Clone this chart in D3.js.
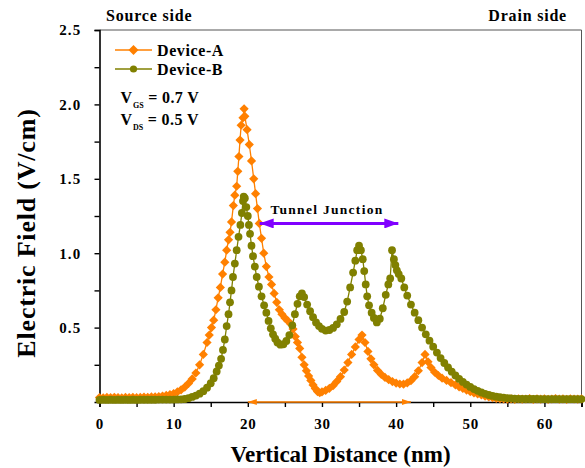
<!DOCTYPE html>
<html>
<head>
<meta charset="utf-8">
<script src="https://cdn.jsdelivr.net/npm/d3@7"></script>
<style>
  html, body { margin: 0; padding: 0; background: #fff; }
  svg { display: block; }
  text { font-family: "Liberation Serif", "Times New Roman", serif; font-weight: bold; fill: #000; }
</style>
</head>
<body>
<svg id="chart" width="585" height="468"></svg>
<script>
// Electric field profile along the vertical distance for two devices.
const deviceA = [
  [0,0.030],[0.5,0.028],[1,0.031],[1.5,0.029],[2,0.032],[2.5,0.030],[3,0.028],[3.5,0.031],[4,0.030],[4.5,0.032],
  [5,0.029],[5.5,0.031],[6,0.033],[6.5,0.032],[7,0.034],[7.5,0.035],[8,0.037],[8.5,0.040],[9,0.044],[9.5,0.050],
  [10,0.057],[10.5,0.068],[11,0.082],[11.5,0.100],[12,0.125],[12.5,0.155],[13,0.195],[13.5,0.250],[14,0.320],[14.5,0.400],
  [14.8,0.450],[15.1,0.500],[15.4,0.550],[15.7,0.620],[16.0,0.700],[16.3,0.770],[16.6,0.860],[16.9,0.940],[17.15,1.020],[17.4,1.090],
  [17.6,1.140],[17.8,1.210],[18.05,1.320],[18.25,1.390],[18.5,1.450],[18.65,1.550],[18.8,1.650],[18.95,1.760],[19.1,1.860],[19.35,1.910],
  [19.5,1.970],[19.6,1.920],[19.9,1.830],[20.2,1.730],[20.5,1.620],[20.8,1.500],[21.05,1.400],[21.3,1.300],[21.55,1.200],[21.85,1.100],
  [22.15,1.000],[22.5,0.910],[22.85,0.840],[23.2,0.790],[23.55,0.730],[23.9,0.670],[24.25,0.620],[24.6,0.590],[25.0,0.565],[25.4,0.545],
  [25.8,0.525],[26.1,0.490],[26.4,0.440],[26.7,0.400],[27.0,0.360],[27.3,0.300],[27.6,0.250],[27.9,0.210],[28.2,0.175],[28.5,0.145],
  [28.8,0.115],[29.1,0.090],[29.4,0.070],[29.7,0.062],[30.0,0.068],[30.5,0.078],[31.0,0.092],[31.5,0.110],[32.0,0.138],[32.5,0.170],
  [33.0,0.215],[33.5,0.265],[34.0,0.320],[34.5,0.370],[35.0,0.420],[35.4,0.450],[35.8,0.400],[36.2,0.340],[36.6,0.290],[37.0,0.250],
  [37.5,0.212],[38.0,0.185],[38.5,0.165],[39.0,0.150],[39.5,0.137],[40.0,0.127],[40.5,0.121],[41.0,0.120],[41.5,0.128],[42.0,0.143],
  [42.5,0.170],[43.0,0.210],[43.5,0.265],[43.9,0.320],[44.3,0.270],[44.7,0.232],[45.2,0.200],[45.7,0.178],[46.2,0.160],[46.8,0.145],
  [47.4,0.130],[48.0,0.115],[48.5,0.102],[49.0,0.091],[49.5,0.080],[50.0,0.070],[50.5,0.061],[51.0,0.054],[51.5,0.047],[52.0,0.040],
  [52.5,0.034],[53.0,0.029],[53.5,0.025],[54.0,0.022],[54.5,0.020],[55,0.019],[55.5,0.021],[56,0.018],[56.5,0.022],[57,0.019],
  [57.5,0.020],[58,0.023],[58.5,0.018],[59,0.021],[59.5,0.019],[60,0.022],[60.5,0.018],[61,0.020],[61.5,0.023],[62,0.019],
  [62.5,0.021],[63,0.018],[63.5,0.022],[64,0.020],[64.5,0.019],[65,0.021]
];

const deviceB = [
  [0,0.014],[0.5,0.015],[1,0.014],[1.5,0.015],[2,0.014],[2.5,0.015],[3,0.014],[3.5,0.015],[4,0.014],[4.5,0.015],
  [5,0.014],[5.5,0.015],[6,0.015],[6.5,0.015],[7,0.015],[7.5,0.015],[8,0.016],[8.5,0.016],[9,0.016],[9.5,0.016],
  [10,0.016],[10.5,0.017],[11,0.018],[11.5,0.020],[12,0.026],[12.5,0.034],[13,0.043],[13.5,0.056],[14,0.073],[14.5,0.096],
  [15,0.126],[15.4,0.160],[15.8,0.205],[16.1,0.245],[16.4,0.290],[16.65,0.350],[16.9,0.420],[17.15,0.510],[17.4,0.590],[17.6,0.670],
  [17.8,0.750],[18.0,0.840],[18.25,0.930],[18.5,1.020],[18.75,1.110],[19.0,1.190],[19.2,1.270],[19.35,1.350],[19.45,1.380],[19.6,1.370],
  [19.8,1.310],[20.0,1.250],[20.15,1.190],[20.3,1.130],[20.5,1.050],[20.7,0.980],[20.95,0.910],[21.2,0.840],[21.5,0.775],[21.85,0.710],
  [22.2,0.650],[22.5,0.600],[22.8,0.545],[23.1,0.495],[23.4,0.455],[23.7,0.425],[24.0,0.400],[24.4,0.385],[24.8,0.388],[25.2,0.410],
  [25.6,0.450],[26.0,0.515],[26.35,0.590],[26.7,0.660],[27.0,0.710],[27.3,0.730],[27.6,0.705],[28.0,0.655],[28.4,0.610],[28.8,0.570],
  [29.2,0.535],[29.6,0.510],[30.0,0.492],[30.5,0.480],[31.0,0.484],[31.5,0.498],[32.0,0.522],[32.5,0.558],[33.0,0.605],[33.4,0.675],
  [33.8,0.770],[34.2,0.870],[34.5,0.950],[34.75,1.020],[35.0,1.050],[35.25,1.020],[35.5,0.960],[35.7,0.880],[35.9,0.790],[36.1,0.710],
  [36.35,0.650],[36.7,0.600],[37.0,0.565],[37.4,0.535],[37.8,0.560],[38.2,0.630],[38.6,0.720],[38.95,0.790],[39.2,0.830],[39.45,1.020],
  [39.7,0.960],[39.9,0.920],[40.1,0.885],[40.35,0.860],[40.7,0.830],[41.1,0.770],[41.5,0.715],[42.0,0.655],[42.5,0.600],[43.0,0.550],
  [43.5,0.500],[44.0,0.455],[44.5,0.412],[45.0,0.372],[45.5,0.332],[46.0,0.295],[46.5,0.262],[47.0,0.232],[47.5,0.204],[48.0,0.178],
  [48.5,0.155],[49.0,0.135],[49.5,0.117],[50.0,0.101],[50.5,0.087],[51.0,0.075],[51.5,0.064],[52.0,0.055],[52.5,0.047],[53.0,0.041],
  [53.5,0.036],[54.0,0.032],[54.5,0.029],[55,0.026],[55.5,0.024],[56,0.022],[56.5,0.021],[57,0.021],[57.5,0.020],[58,0.020],
  [58.5,0.020],[59,0.020],[59.5,0.019],[60,0.019],[60.5,0.019],[61,0.019],[61.5,0.019],[62,0.019],[62.5,0.019],[63,0.019],
  [63.5,0.019],[64,0.019],[64.5,0.019],[65,0.019]
];

const xTicks = [0, 10, 20, 30, 40, 50, 60];
const xMinorTicks = [5, 15, 25, 35, 45, 55, 65];
const yTicks = [0.5, 1.0, 1.5, 2.0, 2.5];
const yMinorTicks = [0.25, 0.75, 1.25, 1.75, 2.25];
const seriesNames = ["Device-A", "Device-B"];
const seriesColors = ["#FF8000", "#808000"];
const junction = [21.6, 40.3, 1.2];   // start, end (nm), field level of the label arrow
const baseArrow = [20, 42];           // span marked along the axis (nm)

const svg = d3.select("#chart");
const margin = { left: 99.5, right: 3.5, top: 30, bottom: 66 };
const W = 585, H = 468;

const x = d3.scaleLinear().domain([0, 65]).range([margin.left, W - margin.right]);
const y = d3.scaleLinear().domain([0, 2.5]).range([H - margin.bottom, margin.top]);

// plot frame: thin top and right border
svg.append("path")
  .attr("d", `M${x(0)},${y(2.5)}H${x(65)}V${y(0)}`)
  .attr("fill", "none").attr("stroke", "#555").attr("stroke-width", 1);

// axes
function styleAxis(g) {
  g.select(".domain").attr("stroke", "#000").attr("stroke-width", 1.6);
  g.selectAll(".tick line").attr("stroke", "#000").attr("stroke-width", 1.4);
  g.selectAll(".tick text")
    .style("font-family", '"Liberation Serif", "Times New Roman", serif')
    .style("font-weight", "bold").style("font-size", "15px").attr("fill", "#000");
}

const gx = svg.append("g").attr("transform", `translate(0,${y(0)})`)
  .call(d3.axisBottom(x).tickValues(xTicks).tickSize(5).tickPadding(8).tickFormat(d3.format("d")));
styleAxis(gx);
gx.selectAll(".tick text").attr("dy", "0.95em").style("letter-spacing", "0.8px");
const gxm = svg.append("g").attr("transform", `translate(0,${y(0)})`)
  .call(d3.axisBottom(x).tickValues(xMinorTicks).tickSize(5).tickFormat(""));
styleAxis(gxm);
gxm.select(".domain").remove();

const gy = svg.append("g").attr("transform", `translate(${x(0)},0)`)
  .call(d3.axisLeft(y).tickValues(yTicks).tickSize(5).tickPadding(13).tickFormat(d3.format(".1f")));
styleAxis(gy);
gy.selectAll(".tick text").style("letter-spacing", "1.2px");
const gym = svg.append("g").attr("transform", `translate(${x(0)},0)`)
  .call(d3.axisLeft(y).tickValues(yMinorTicks).tickSize(5).tickFormat(""));
styleAxis(gym);
gym.select(".domain").remove();

// arrow along the axis
const defs = svg.append("defs");
function marker(id, color, w, h) {
  const m = defs.append("marker").attr("id", id)
    .attr("viewBox", `0 0 ${w} ${h}`).attr("refX", w).attr("refY", h / 2)
    .attr("markerWidth", w).attr("markerHeight", h)
    .attr("markerUnits", "userSpaceOnUse").attr("orient", "auto-start-reverse");
  m.append("path").attr("d", `M0,0L${w},${h / 2}L0,${h}Z`).attr("fill", color);
}
marker("headOrange", seriesColors[0], 9, 6);
marker("headPurple", "#8000FF", 14, 10);

svg.append("line")
  .attr("x1", x(baseArrow[0])).attr("x2", x(baseArrow[1]))
  .attr("y1", y(0)).attr("y2", y(0))
  .attr("stroke", seriesColors[0]).attr("stroke-width", 1.6)
  .attr("marker-start", "url(#headOrange)").attr("marker-end", "url(#headOrange)");

// series
const diamond = (s) => `M0,${-s}L${s},0L0,${s}L${-s},0Z`;
const line = d3.line().x(d => x(d[0])).y(d => y(d[1]));

const plot = svg.append("g");
[[deviceA, 0], [deviceB, 1]].forEach(([data, i]) => {
  const g = plot.append("g");
  g.append("path").datum(data).attr("d", line)
    .attr("fill", "none").attr("stroke", seriesColors[i]).attr("stroke-width", 1.3);
  if (i === 0) {
    g.selectAll("path.pt").data(data).join("path").attr("class", "pt")
      .attr("transform", d => `translate(${x(d[0])},${y(d[1])})`)
      .attr("d", diamond(4.6)).attr("fill", seriesColors[i]);
  } else {
    g.selectAll("circle").data(data).join("circle")
      .attr("cx", d => x(d[0])).attr("cy", d => y(d[1])).attr("r", 3.9)
      .attr("fill", seriesColors[i]);
  }
});

// tunnel junction annotation
svg.append("line")
  .attr("x1", x(junction[0])).attr("x2", x(junction[1]))
  .attr("y1", y(junction[2])).attr("y2", y(junction[2]))
  .attr("stroke", "#8000FF").attr("stroke-width", 3)
  .attr("marker-start", "url(#headPurple)").attr("marker-end", "url(#headPurple)");
svg.append("text").attr("x", x((junction[0] + junction[1]) / 2) - 2).attr("y", y(junction[2]) - 9)
  .attr("text-anchor", "middle").style("font-size", "13.5px").style("letter-spacing", "1.3px")
  .text("Tunnel Junction");

// legend
const legend = svg.append("g");
seriesNames.forEach((name, i) => {
  const ly = 50 + i * 19;
  legend.append("line").attr("x1", 115).attr("x2", 152).attr("y1", ly).attr("y2", ly)
    .attr("stroke", seriesColors[i]).attr("stroke-width", 1.5);
  if (i === 0) {
    legend.append("path").attr("transform", `translate(133.5,${ly})`).attr("d", diamond(5)).attr("fill", seriesColors[i]);
  } else {
    legend.append("circle").attr("cx", 133.5).attr("cy", ly).attr("r", 3.6).attr("fill", seriesColors[i]);
  }
  legend.append("text").attr("x", 157).attr("y", ly + 5.5).style("font-size", "16px")
    .style("letter-spacing", "0.6px").text(name);
});

// bias conditions
[["GS", "0.7"], ["DS", "0.5"]].forEach(([sub, v], i) => {
  const t = svg.append("text").attr("x", 120.5).attr("y", 102.5 + i * 22.5).style("font-size", "16px");
  t.append("tspan").text("V");
  t.append("tspan").attr("dy", 5).attr("dx", 1).style("font-size", "8px").text(sub);
  t.append("tspan").attr("dy", -5).style("font-size", "16px").style("letter-spacing", "0.4px").text(` = ${v} V`);
});

// side labels
svg.append("text").attr("x", 106).attr("y", 21).style("font-size", "16px")
  .style("letter-spacing", "0.8px").text("Source side");
svg.append("text").attr("x", 567).attr("y", 21).attr("text-anchor", "end").style("font-size", "16px")
  .style("letter-spacing", "0.8px").text("Drain side");

// axis titles
svg.append("text").attr("x", (x(0) + x(65)) / 2 + 0).attr("y", 462).attr("text-anchor", "middle")
  .style("font-size", "23px").text("Vertical Distance (nm)");
svg.append("text").attr("transform", "translate(35,233) rotate(-90)").attr("text-anchor", "middle")
  .style("font-size", "26px").style("letter-spacing", "0.8px").text("Electric Field (V/cm)");
</script>
</body>
</html>
